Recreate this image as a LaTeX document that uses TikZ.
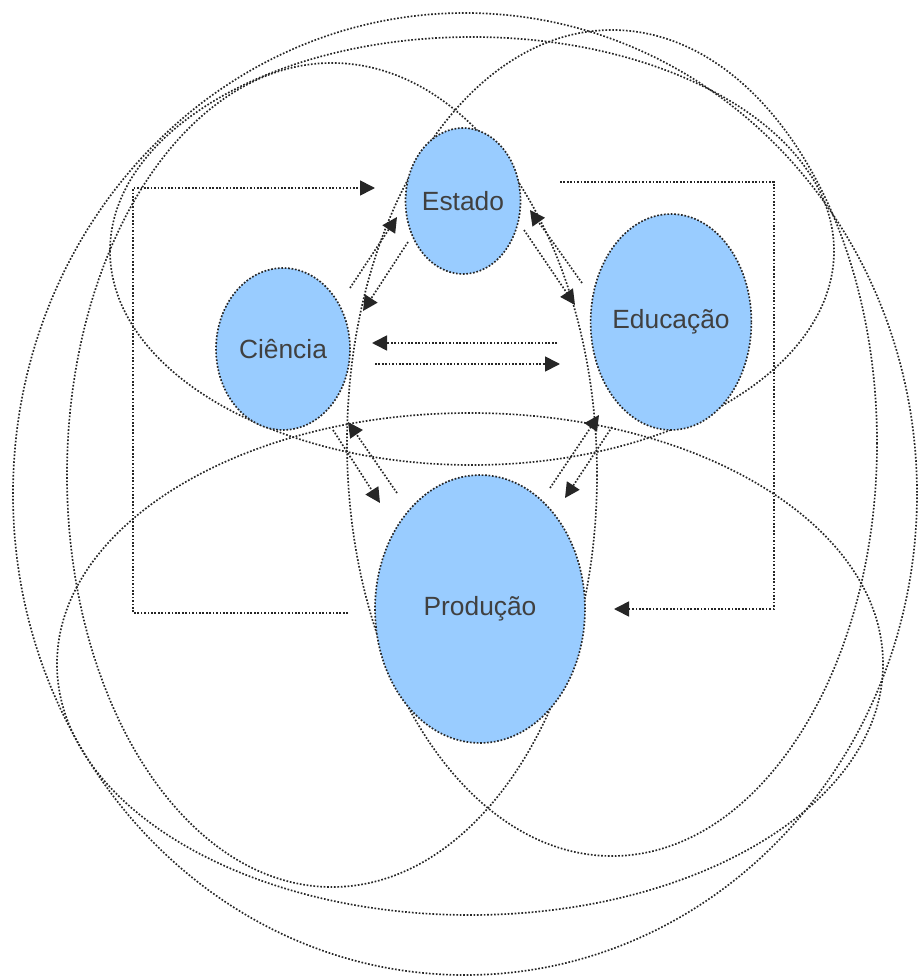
\documentclass[tikz,border=0pt]{standalone}
\usepackage{fontspec}
\setmainfont{Liberation Sans}
\usetikzlibrary{shapes.geometric,arrows.meta}
\definecolor{balao}{RGB}{153,204,255}
\definecolor{tinta}{RGB}{64,64,64}

\begin{document}
\begin{tikzpicture}[x=0.02cm,y=-0.02cm,
	pontos/.style={draw=black!85,line width=0.95pt,dash pattern=on 0.95pt off 1pt},
	seta/.style={pontos,-{Triangle[length=0.3cm,width=0.3cm]}},
	bolha/.style={ellipse,pontos,fill=balao,inner sep=-1pt,text=tinta,font=\fontsize{15}{17}\selectfont}]
	\useasboundingbox (0,0) rectangle (917,976);

	% conjuntos
	\draw[pontos] (465,494) ellipse [x radius=452,y radius=481];
	\draw[pontos] (472,251) ellipse [x radius=362,y radius=214];
	\draw[pontos] (332,475) ellipse [x radius=265,y radius=412];
	\draw[pontos] (612,443) ellipse [x radius=265,y radius=413];
	\draw[pontos] (470,664) ellipse [x radius=413,y radius=251];

	% esferas
	\node[bolha,minimum width=2.3cm,minimum height=2.92cm] (est) at (463,201) {Estado};
	\node[bolha,minimum width=2.68cm,minimum height=3.24cm] (cie) at (283,349) {Ciência};
	\node[bolha,minimum width=3.12cm,minimum height=4.32cm] (edu) at (671,322) {Educação};
	\node[bolha,minimum width=4.2cm,minimum height=5.36cm] (pro) at (480,609) {Produção};

	% pontas das setas
	\coordinate (esqA) at (348,613);
	\coordinate (esqB) at (375,188);
	\coordinate (esqC) at (133,400);
	\coordinate (dirA) at (560,182);
	\coordinate (dirB) at (614,609);
	\coordinate (dirC) at (774,400);

	\coordinate (ceA) at (350,288);
	\coordinate (ceB) at (397,217);
	\coordinate (ecA) at (408,242);
	\coordinate (ecB) at (363,311);

	\coordinate (deA) at (582,283);
	\coordinate (deB) at (530,210);
	\coordinate (edA) at (524,230);
	\coordinate (edB) at (575,305);

	\coordinate (dcA) at (557,343);
	\coordinate (dcB) at (372,343);
	\coordinate (cdA) at (375,364);
	\coordinate (cdB) at (560,364);

	\coordinate (pcA) at (397,493);
	\coordinate (pcB) at (348,422);
	\coordinate (cpA) at (333,430);
	\coordinate (cpB) at (380,503);

	\coordinate (pdA) at (550,488);
	\coordinate (pdB) at (599,415);
	\coordinate (dpA) at (612,427);
	\coordinate (dpB) at (565,498);

	% ligacoes
	\draw[seta] (esqA) -- (esqA -| esqC) -- (esqB -| esqC) -- (esqB);
	\draw[seta] (dirA) -- (dirA -| dirC) -- (dirB -| dirC) -- (dirB);

	\draw[seta] (ceA) -- (ceB);
	\draw[seta] (ecA) -- (ecB);
	\draw[seta] (deA) -- (deB);
	\draw[seta] (edA) -- (edB);
	\draw[seta] (dcA) -- (dcB);
	\draw[seta] (cdA) -- (cdB);
	\draw[seta] (pcA) -- (pcB);
	\draw[seta] (cpA) -- (cpB);
	\draw[seta] (pdA) -- (pdB);
	\draw[seta] (dpA) -- (dpB);
\end{tikzpicture}
\end{document}
